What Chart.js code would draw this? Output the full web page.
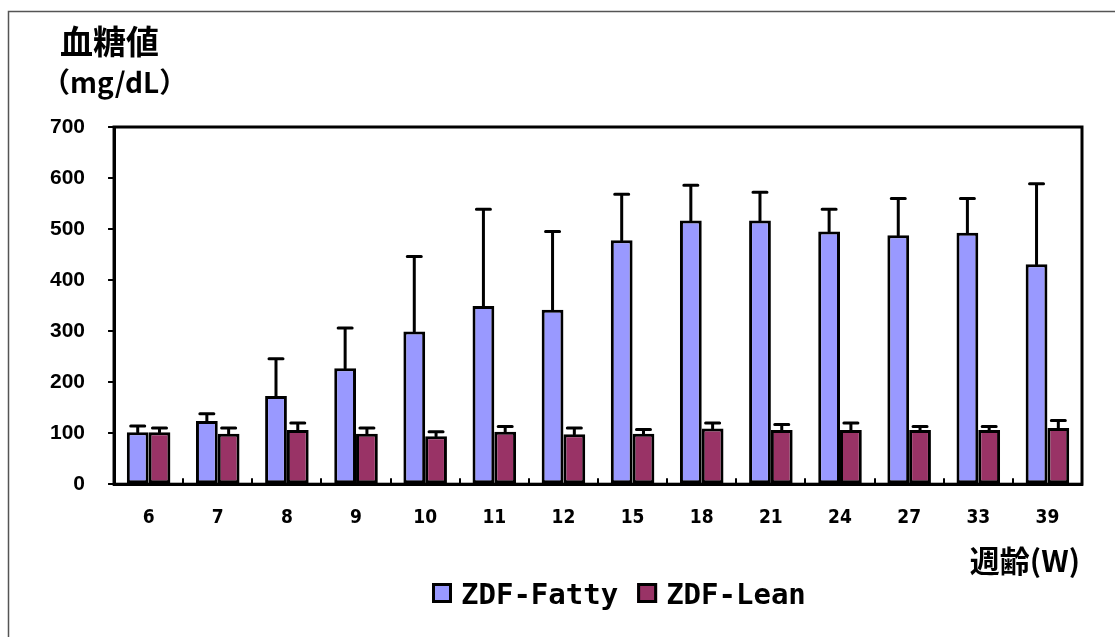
<!DOCTYPE html>
<html>
<head>
<meta charset="utf-8">
<script src="https://cdn.jsdelivr.net/npm/chart.js@4.4.1/dist/chart.umd.min.js"></script>
<style>
  html, body { margin: 0; padding: 0; background: #fff; }
  #wrap { width: 1115px; height: 637px; position: relative; }
</style>
</head>
<body>
<div id="wrap"><canvas id="chart_glucose"></canvas></div>
<script>
// 週齢
var weeks = ['6', '7', '8', '9', '10', '11', '12', '15', '18', '21', '24', '27', '33', '39'];
// 平均値
var fattyMean = [102, 124, 173, 227, 299, 349, 342, 478, 517, 517, 495, 488, 493, 431];
var leanMean  = [102,  99, 106,  99,  94, 103,  98,  99, 109, 106, 106, 106, 106, 110];
// SD (上側のみ)
var fattySd = [12, 14, 73, 79, 147, 190, 153, 90, 69, 55, 44, 72, 67, 158];
var leanSd  = [ 8, 11, 14, 11,   9,  10,  12,  8, 11, 11, 14,  7,  7,  15];
var yTicks = [0, 100, 200, 300, 400, 500, 600, 700];

var jpFont = '"Noto Sans CJK JP", sans-serif';

// error bars, frame and labels
var extras = {
    id: 'extras',
    beforeDraw: function (chart) {
        var ctx = chart.ctx;
        ctx.save();
        ctx.strokeStyle = '#555';
        ctx.lineWidth = 1.5;
        ctx.strokeRect(8.5, 11.5, 1200, 700);
        ctx.restore();
    },
    beforeDatasetsDraw: function (chart) {
        var ctx = chart.ctx, a = chart.chartArea, x = chart.scales.x;
        ctx.save();
        ctx.strokeStyle = '#000';
        ctx.lineWidth = 3;
        ctx.strokeRect(a.left, a.top, a.right - a.left, a.bottom - a.top);
        // small ticks between categories
        ctx.lineWidth = 2;
        for (var i = 1; i < weeks.length; i++) {
            var px = Math.round((x.getPixelForValue(i - 1) + x.getPixelForValue(i)) / 2);
            ctx.beginPath();
            ctx.moveTo(px, a.bottom);
            ctx.lineTo(px, a.bottom - 6);
            ctx.stroke();
        }
        ctx.restore();
    },
    afterDatasetsDraw: function (chart) {
        var ctx = chart.ctx, y = chart.scales.y;
        var sds = [fattySd, leanSd];
        var means = [fattyMean, leanMean];
        ctx.save();
        ctx.strokeStyle = '#000';
        ctx.lineWidth = 3;
        ctx.lineCap = 'round';
        chart.data.datasets.forEach(function (ds, i) {
            var meta = chart.getDatasetMeta(i);
            meta.data.forEach(function (bar, j) {
                var top = y.getPixelForValue(means[i][j]);
                var cap = y.getPixelForValue(means[i][j] + sds[i][j]);
                ctx.beginPath();
                ctx.moveTo(bar.x, top);
                ctx.lineTo(bar.x, cap);
                ctx.moveTo(bar.x - 7, cap);
                ctx.lineTo(bar.x + 7, cap);
                ctx.stroke();
            });
        });
        ctx.restore();
    },
    afterDraw: function (chart) {
        var ctx = chart.ctx;
        ctx.save();
        ctx.fillStyle = '#000';
        ctx.textBaseline = 'alphabetic';
        ctx.textAlign = 'left';
        ctx.font = 'bold 33px ' + jpFont;
        ctx.fillText('血糖値', 60, 54);
        ctx.font = 'bold 28px ' + jpFont;
        ctx.fillText('（mg/dL）', 42, 93);
        ctx.textAlign = 'right';
        ctx.font = 'bold 30px ' + jpFont;
        ctx.fillText('週齢(W)', 1080, 572);

        // legend
        ctx.textAlign = 'left';
        ctx.font = 'bold 29px "DejaVu Sans Mono", monospace';
        var lx = 432, ly = 583;
        chart.data.datasets.forEach(function (ds) {
            ctx.fillStyle = ds.backgroundColor;
            ctx.fillRect(lx, ly, 20, 20);
            ctx.strokeStyle = '#000';
            ctx.lineWidth = 3;
            ctx.strokeRect(lx + 1.5, ly + 1.5, 17, 17);
            ctx.fillStyle = '#000';
            ctx.fillText(ds.label, lx + 29, ly + 21);
            lx += 29 + ctx.measureText(ds.label).width + 19;
        });
        ctx.restore();
    }
};

var ctx = document.getElementById('chart_glucose');
var barChart = new Chart(ctx, {
    type: 'bar',
    data: {
        labels: weeks,
        datasets: [
            { label: 'ZDF-Fatty', data: fattyMean, backgroundColor: '#9999FF' },
            { label: 'ZDF-Lean', data: leanMean, backgroundColor: '#993366' }
        ]
    },
    options: {
        responsive: true,
        maintainAspectRatio: false,
        animation: false,
        layout: { padding: { left: 27, right: 33, top: 127, bottom: 86 } },
        datasets: {
            bar: {
                borderColor: '#000',
                borderWidth: 3,
                borderSkipped: false,
                categoryPercentage: 0.63,
                barPercentage: 1
            }
        },
        plugins: {
            legend: { display: false },
            tooltip: { enabled: false }
        },
        scales: {
            x: {
                grid: { display: false, drawTicks: false },
                border: { display: true, color: '#000', width: 3 },
                ticks: {
                    color: '#000',
                    padding: 22,
                    font: { family: '"Liberation Sans Narrow", "DejaVu Sans Condensed", "Liberation Sans", sans-serif', weight: 'bold', size: 19 }
                }
            },
            y: {
                min: 0,
                max: 700,
                afterBuildTicks: function (scale) {
                    scale.ticks = yTicks.map(function (v) { return { value: v }; });
                },
                grid: { display: true, drawOnChartArea: false, drawTicks: true, tickLength: 6, color: '#000', lineWidth: 2 },
                border: { display: true, color: '#000', width: 3 },
                ticks: {
                    color: '#000',
                    padding: 23,
                    font: { family: '"Liberation Sans", Arial, sans-serif', weight: 'bold', size: 21 }
                }
            }
        }
    },
    plugins: [extras]
});
</script>
</body>
</html>
